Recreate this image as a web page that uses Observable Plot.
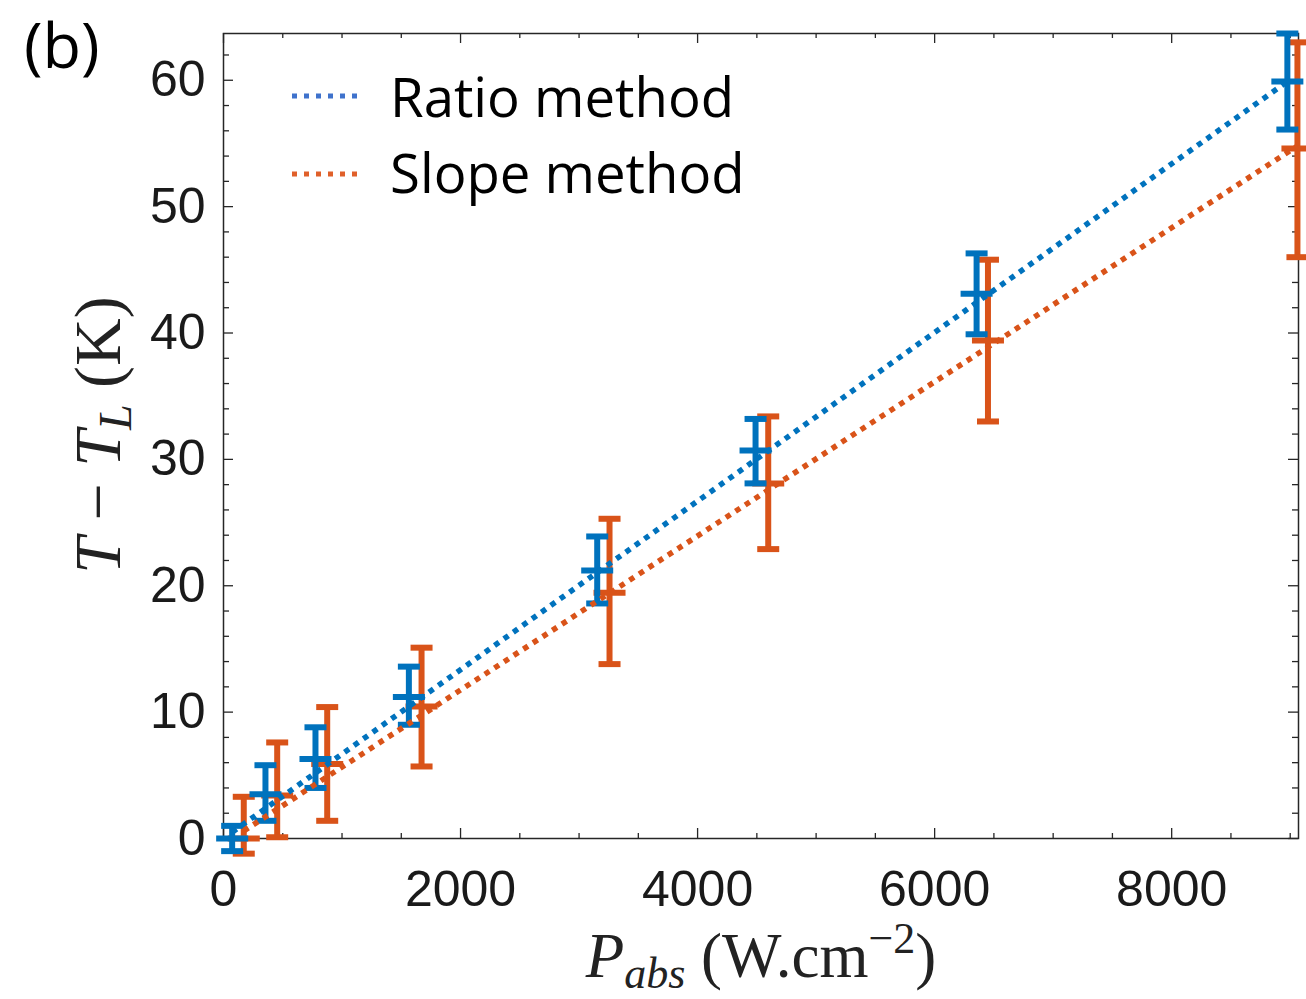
<!DOCTYPE html>
<html>
<head>
<meta charset="utf-8">
<script src="https://cdn.jsdelivr.net/npm/d3@7"></script>
<script src="https://cdn.jsdelivr.net/npm/@observablehq/plot@0.6"></script>
<style>
  html, body { margin: 0; padding: 0; background: #fff; }
  #wrap { position: relative; width: 1306px; height: 999px; overflow: hidden; }
  #overlay { position: absolute; left: 0; top: 0; pointer-events: none; }
</style>
</head>
<body>
<div id="wrap"></div>
<script>
// ---------- data ----------
const seriesNames = ["Ratio method", "Slope method"];

// Ratio method (blue)
const ratioP   = [73, 354, 776, 1564, 3153, 4489, 6354, 8976];
const ratioT   = [0, 3.5, 6.3, 11.2, 21.2, 30.7, 43.1, 59.9];
const ratioLo  = [-1.0, 1.4, 4.0, 9.0, 18.6, 28.1, 39.9, 56.1];
const ratioHi  = [1.0, 5.8, 8.8, 13.6, 23.9, 33.2, 46.3, 63.7];
const ratioFitP = [73, 8976];
const ratioFitT = [0.5, 59.9];

// Slope method (orange)
const slopeP   = [171, 453, 875, 1671, 3257, 4596, 6450, 9061];
const slopeT   = [0, 3.4, 5.9, 10.45, 19.45, 28.1, 39.4, 54.6];
const slopeLo  = [-1.2, 0.1, 1.4, 5.7, 13.8, 22.9, 33.0, 46.0];
const slopeHi  = [3.3, 7.6, 10.4, 15.1, 25.3, 33.4, 45.8, 63.0];
const slopeFitP = [171, 9061];
const slopeFitT = [0.6, 54.8];

// ticks
const xTicks = [0, 2000, 4000, 6000, 8000];
const xMinor = [500, 1000, 1500, 2500, 3000, 3500, 4500, 5000, 5500, 6500, 7000, 7500, 8500, 9000];
const yTicks = [0, 10, 20, 30, 40, 50, 60];
const yMinor = [2, 4, 6, 8, 12, 14, 16, 18, 22, 24, 26, 28, 32, 34, 36, 38, 42, 44, 46, 48, 52, 54, 56, 58, 62];

// ---------- styling ----------
const W = 1306, H = 999;
const mL = 223, mR = 8, mT = 33, mB = 161;
const fw = W - mL - mR, fh = H - mT - mB;
const blue = "#0072BD", orange = "#D95319";
const legendBlue = "#3F72CC", legendOrange = "#E0602A";
const axisColor = "#262626";
const barW = 6;

const hbar = {
  draw(ctx, size) {
    const r = Math.sqrt(size / Math.PI);
    ctx.moveTo(-r, 0);
    ctx.lineTo(r, 0);
  }
};

function table(P, T, Lo, Hi) {
  return P.map((p, i) => ({p, t: T[i], lo: Lo[i], hi: Hi[i]}));
}
const ratio = table(ratioP, ratioT, ratioLo, ratioHi);
const slope = table(slopeP, slopeT, slopeLo, slopeHi);
const ratioFit = ratioFitP.map((p, i) => ({p, t: ratioFitT[i]}));
const slopeFit = slopeFitP.map((p, i) => ({p, t: slopeFitT[i]}));

function errMarks(data, color) {
  const common = {stroke: color, strokeWidth: barW, fill: "none"};
  return [
    Plot.ruleX(data, {x: "p", y1: "lo", y2: "hi", stroke: color, strokeWidth: barW}),
    Plot.dot(data, {x: "p", y: "lo", symbol: hbar, r: 11, ...common}),
    Plot.dot(data, {x: "p", y: "hi", symbol: hbar, r: 11, ...common}),
    Plot.dot(data, {x: "p", y: "t", symbol: hbar, r: 16, ...common})
  ];
}

const chart = Plot.plot({
  width: W, height: H,
  marginLeft: mL, marginRight: mR, marginTop: mT, marginBottom: mB,
  style: {background: "#fff", color: axisColor, fontFamily: "'Liberation Sans', Arial, sans-serif", overflow: "visible"},
  x: {domain: [0, 9070]},
  y: {domain: [0, 63.7]},
  marks: [
    // tick marks (inward), all four sides
    Plot.tickX(xTicks, {x: d => d, insetTop: fh - 10, stroke: axisColor, strokeWidth: 1.3}),
    Plot.tickX(xMinor, {x: d => d, insetTop: fh - 5, stroke: axisColor, strokeWidth: 1.3}),
    Plot.tickX(xTicks, {x: d => d, insetBottom: fh - 10, stroke: axisColor, strokeWidth: 1.3}),
    Plot.tickX(xMinor, {x: d => d, insetBottom: fh - 5, stroke: axisColor, strokeWidth: 1.3}),
    Plot.tickY(yTicks, {y: d => d, insetRight: fw - 10, stroke: axisColor, strokeWidth: 1.3}),
    Plot.tickY(yMinor, {y: d => d, insetRight: fw - 6, stroke: axisColor, strokeWidth: 1.3}),
    Plot.tickY(yTicks, {y: d => d, insetLeft: fw - 10, stroke: axisColor, strokeWidth: 1.3}),
    Plot.tickY(yMinor, {y: d => d, insetLeft: fw - 6, stroke: axisColor, strokeWidth: 1.3}),
    Plot.axisX({ticks: xTicks, tickSize: 0, tickPadding: 32, label: null, tickFormat: d => String(d), fontSize: 50, fill: "#1a1a1a"}),
    Plot.axisY({ticks: yTicks, tickSize: 0, tickPadding: 18, label: null, tickFormat: d => String(d), fontSize: 50, fill: "#1a1a1a"}),
    Plot.frame({stroke: axisColor, strokeWidth: 1.5}),
    // error bars
    ...errMarks(slope, orange),
    ...errMarks(ratio, blue),
    // fitted dotted lines
    Plot.line(ratioFit, {x: "p", y: "t", stroke: blue, strokeWidth: 5.5, strokeDasharray: "5.5,6", strokeLinecap: "butt"}),
    Plot.line(slopeFit, {x: "p", y: "t", stroke: orange, strokeWidth: 5.5, strokeDasharray: "5.5,6", strokeLinecap: "butt"})
  ]
});

const wrap = document.getElementById("wrap");
wrap.appendChild(chart);

// ---------- overlay: panel letter, legend, axis labels ----------
const ov = d3.select(wrap).append("svg")
  .attr("id", "overlay").attr("width", W).attr("height", H);

ov.append("text")
  .attr("x", 24).attr("y", 68)
  .attr("font-family", "'Open Sans', Lato, sans-serif")
  .attr("font-size", 63).attr("fill", "#000")
  .text("(b)");

const legColors = [legendBlue, legendOrange];
seriesNames.forEach((name, i) => {
  const cy = [96, 174][i];
  ov.append("line")
    .attr("x1", 292).attr("x2", 361).attr("y1", cy).attr("y2", cy)
    .attr("stroke", legColors[i]).attr("stroke-width", 5)
    .attr("stroke-dasharray", "5,7");
  ov.append("text")
    .attr("x", 390).attr("y", [117, 193][i])
    .attr("font-family", "'Open Sans', Lato, sans-serif")
    .attr("font-size", 54.5).attr("fill", "#000")
    .text(name);
});

// y label: T − T_L (K)
const yl = ov.append("text")
  .attr("transform", "translate(120,435) rotate(-90)")
  .attr("text-anchor", "middle")
  .attr("font-family", "'Liberation Serif', 'Times New Roman', serif")
  .attr("font-size", 66).attr("fill", "#222");
yl.append("tspan").attr("font-style", "italic").text("T");
yl.append("tspan").text(" \u2212 ");
yl.append("tspan").attr("font-style", "italic").text("T");
yl.append("tspan").attr("font-style", "italic").attr("font-size", 46).attr("dy", 11).text("L");
yl.append("tspan").attr("dy", -11).text(" (K)");

// x label: P_abs (W.cm^-2)
const xl = ov.append("text")
  .attr("x", 761).attr("y", 977)
  .attr("text-anchor", "middle")
  .attr("font-family", "'Liberation Serif', 'Times New Roman', serif")
  .attr("font-size", 63).attr("fill", "#222");
xl.append("tspan").attr("font-style", "italic").text("P");
xl.append("tspan").attr("font-style", "italic").attr("font-size", 44).attr("dy", 11).text("abs");
xl.append("tspan").attr("dy", -11).text(" (W.cm");
xl.append("tspan").attr("font-size", 44).attr("dy", -24).text("\u22122");
xl.append("tspan").attr("dy", 24).text(")");
</script>
</body>
</html>
